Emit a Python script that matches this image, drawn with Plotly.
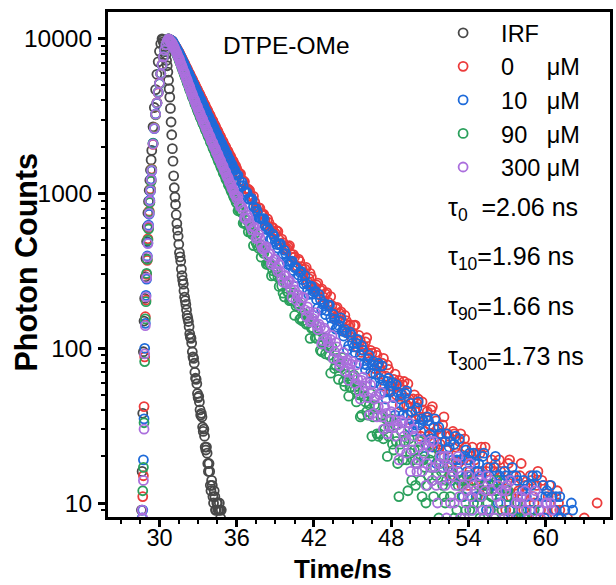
import plotly.graph_objects as go

# ---------------- data ----------------
# time channels (ns)
t_seg_a = [28.60, 28.65, 28.70, 28.75, 28.80, 28.85, 28.90, 28.95, 29.00, 29.05,
           29.10, 29.15, 29.20, 29.25, 29.30, 29.35, 29.40]
t_seg_b = [29.5, 29.6, 29.7, 29.8, 29.9, 30.0,
           30.1, 30.2, 30.3, 30.4, 30.5, 30.6, 30.7, 30.8, 30.9, 31.0,
           31.1, 31.2, 31.3, 31.4, 31.5, 31.6, 31.7, 31.8, 31.9, 32.0,
           32.1, 32.2, 32.3, 32.4, 32.5, 32.6, 32.7, 32.8, 32.9, 33.0,
           33.1, 33.2, 33.3, 33.4, 33.5, 33.6, 33.7, 33.8, 33.9, 34.0,
           34.1, 34.2, 34.3, 34.4, 34.5, 34.6, 34.7, 34.8, 34.9, 35.0,
           35.1, 35.2, 35.3, 35.4, 35.5, 35.6, 35.7, 35.8, 35.9, 36.0]
t_seg_b2 = [30.75, 30.85, 30.95,
            31.05, 31.15, 31.25, 31.35, 31.45, 31.55, 31.65, 31.75, 31.85, 31.95,
            32.05, 32.15, 32.25, 32.35, 32.45, 32.55, 32.65, 32.75, 32.85, 32.95,
            33.05, 33.15, 33.25, 33.35, 33.45, 33.55, 33.65, 33.75, 33.85, 33.95,
            34.05, 34.15, 34.25, 34.35, 34.45, 34.55, 34.65, 34.75, 34.85, 34.95,
            35.05, 35.15, 35.25, 35.35, 35.45, 35.55, 35.65, 35.75, 35.85, 35.95]
t_seg_c = [36.2, 36.4, 36.6, 36.8, 37.0, 37.2, 37.4, 37.6, 37.8, 38.0,
           38.2, 38.4, 38.6, 38.8, 39.0, 39.2, 39.4, 39.6, 39.8, 40.0,
           40.2, 40.4, 40.6, 40.8, 41.0, 41.2, 41.4, 41.6, 41.8, 42.0,
           42.2, 42.4, 42.6, 42.8, 43.0, 43.2, 43.4, 43.6, 43.8, 44.0,
           44.2, 44.4, 44.6, 44.8, 45.0, 45.2, 45.4, 45.6, 45.8, 46.0,
           46.2, 46.4, 46.6, 46.8, 47.0, 47.2, 47.4, 47.6, 47.8, 48.0,
           48.2, 48.4, 48.6, 48.8, 49.0, 49.2, 49.4, 49.6, 49.8, 50.0,
           50.2, 50.4, 50.6, 50.8, 51.0, 51.2, 51.4, 51.6, 51.8, 52.0,
           52.2, 52.4, 52.6, 52.8, 53.0, 53.2, 53.4, 53.6, 53.8, 54.0,
           54.2, 54.4, 54.6, 54.8, 55.0, 55.2, 55.4, 55.6, 55.8, 56.0,
           56.2, 56.4, 56.6, 56.8, 57.0, 57.2, 57.4, 57.6, 57.8, 58.0,
           58.2, 58.4, 58.6, 58.8, 59.0, 59.2, 59.4, 59.6, 59.8, 60.0,
           60.2, 60.4, 60.6, 60.8, 61.0, 61.2, 61.4, 61.6, 61.8, 62.0,
           62.2, 62.4, 62.6, 62.8, 63.0, 63.2, 63.4, 63.6, 63.8, 64.0]
t_seg_c2 = [36.1, 36.3, 36.5, 36.7, 36.9, 37.1, 37.3, 37.5, 37.7, 37.9,
            38.1, 38.3, 38.5, 38.7, 38.9, 39.1, 39.3, 39.5, 39.7, 39.9,
            40.1, 40.3, 40.5, 40.7, 40.9, 41.1, 41.3, 41.5, 41.7, 41.9,
            42.1, 42.3, 42.5, 42.7, 42.9, 43.1, 43.3, 43.5, 43.7, 43.9,
            44.1, 44.3, 44.5, 44.7, 44.9, 45.1, 45.3, 45.5, 45.7, 45.9,
            46.1, 46.3, 46.5, 46.7, 46.9, 47.1, 47.3, 47.5, 47.7, 47.9,
            48.1, 48.3, 48.5, 48.7, 48.9, 49.1, 49.3, 49.5, 49.7, 49.9,
            50.1, 50.3, 50.5, 50.7, 50.9, 51.1, 51.3, 51.5, 51.7, 51.9,
            52.1, 52.3, 52.5, 52.7, 52.9, 53.1, 53.3, 53.5, 53.7, 53.9,
            54.1, 54.3, 54.5, 54.7, 54.9, 55.1, 55.3, 55.5, 55.7, 55.9,
            56.1, 56.3, 56.5, 56.7, 56.9, 57.1, 57.3, 57.5, 57.7, 57.9,
            58.1, 58.3, 58.5, 58.7, 58.9, 59.1, 59.3, 59.5, 59.7, 59.9,
            60.1, 60.3, 60.5, 60.7, 60.9, 61.1, 61.3, 61.5, 61.7, 61.9,
            62.1, 62.3, 62.5, 62.7, 62.9, 63.1, 63.3, 63.5, 63.7, 63.9]
t_irf_mid = [30.25, 30.35, 30.45, 30.55, 30.65, 30.75, 30.85, 30.95,
             31.05, 31.15, 31.25, 31.35, 31.45, 31.55, 31.65, 31.75, 31.85, 31.95,
             32.05, 32.15, 32.25, 32.35, 32.45, 32.55, 32.65, 32.75, 32.85, 32.95,
             33.05, 33.15, 33.25, 33.35, 33.45, 33.55, 33.65, 33.75, 33.85, 33.95,
             34.05, 34.15, 34.25, 34.35, 34.45, 34.55, 34.65, 34.75]

decay_time = t_seg_a + t_seg_b + t_seg_c + t_seg_b2 + t_seg_c2
irf_time = t_seg_a + t_seg_b[0:54] + t_irf_mid

irf_counts = [9, 16, 38, 95, 150, 210, 290, 380, 490, 610, 750, 890, 1050, 1220, 1420, 1650, 1900,
              2700, 3600, 4700, 5900, 7100, 8300,
              9300, 10000, 9600, 8900, 7900, 6700, 5400, 4200, 2900, 1950,
              1300, 950, 730, 580, 470, 390, 325, 275, 235, 203,
              177, 156, 138, 118, 108, 88, 80, 64, 59, 48,
              45, 37, 36, 29, 27, 22, 21, 16, 16, 12,
              13, 10, 11, 9, 10, 9, 9, 9,
              # mid channels 30.25 .. 34.75
              9850, 9300, 8450, 7250, 6100, 4750, 3550, 2400,
              1620, 1090, 850, 640, 530, 415, 365, 295, 260, 214,
              192, 163, 149, 124, 116, 95, 86, 70, 63, 51,
              49, 40, 38, 31, 30, 23, 23, 18, 18, 13,
              14, 11, 12, 9, 10, 9, 10, 8]

counts_0uM = [5, 7, 11, 15, 42, 88, 160, 205, 300, 370, 510, 600, 770, 880, 1070, 1210, 1440,
              2080, 2670, 3230, 3870, 4480, 5170,
              5930, 6820, 7640, 8460, 9140, 9710, 10000, 9890, 9770, 9660,
              9354, 9057, 8770, 8492, 8222, 7907, 7603, 7311, 7031, 6761,
              6501, 6252, 6012, 5781, 5559, 5346, 5140, 4943, 4753, 4571,
              4410, 4215, 4080, 3895, 3770, 3600, 3490, 3330, 3225, 3080,
              2985, 2845, 2760, 2630, 2555, 2430, 2362, 2248, 2185, 2078,
              2030, 1925, 1890, 1790, 1755, 1660, 1630, 1540, 1515, 1438,
              # 36.2 .. 64.0
              1358, 1212, 1190, 1066, 1047, 914, 882, 778, 804, 737,
              674, 685, 588, 603, 554, 569, 471, 482, 439, 453,
              407, 403, 335, 377, 337, 305, 333, 283, 289, 242,
              257, 224, 242, 213, 229, 186, 189, 158, 184, 168,
              148, 163, 126, 142, 126, 141, 101, 112, 98, 110,
              93, 97, 69, 94, 79, 68, 86, 66, 73, 53,
              63, 50, 62, 51, 61, 43, 47, 34, 50, 44,
              36, 45, 29, 39, 32, 42, 23, 30, 24, 32,
              25, 28, 15, 29, 23, 18, 28, 19, 23, 13,
              20, 14, 21, 16, 23, 13, 16, 9, 19, 16,
              12, 19, 9, 16, 13, 19, 8, 13, 10, 15,
              11, 13, 5, 15, 11, 8, 16, 9, 13, 6,
              11, 7, 9, 9, 10, 7, 6, 4, 7, 6,
              7, 7, 5, 5, 8, 7, 4, 6, 6, 10,
              # 30.75 .. 35.95
              9960, 9815, 9730,
              9480, 9230, 8890, 8650, 8330, 8100, 7730, 7480, 7140, 6920,
              6600, 6400, 6100, 5920, 5640, 5480, 5220, 5060, 4820, 4690,
              4460, 4330, 4120, 4010, 3810, 3710, 3520, 3430, 3260, 3170,
              3010, 2940, 2780, 2715, 2570, 2510, 2375, 2320, 2195, 2150,
              2035, 1990, 1880, 1845, 1745, 1715, 1620, 1595, 1505, 1480,
              # 36.1 .. 63.9
              1372, 1337, 1212, 1067, 1067, 962, 959, 822, 812, 737,
              735, 622, 650, 607, 545, 575, 504, 508, 438, 443,
              460, 387, 389, 340, 364, 324, 325, 269, 305, 254,
              247, 264, 238, 200, 225, 199, 216, 170, 181, 161,
              172, 129, 151, 139, 118, 140, 113, 121, 94, 102,
              117, 87, 93, 74, 90, 75, 80, 57, 78, 57,
              57, 68, 59, 43, 58, 48, 59, 39, 47, 39,
              47, 27, 40, 36, 27, 40, 28, 34, 22, 28,
              36, 22, 27, 18, 28, 21, 25, 13, 26, 15,
              16, 23, 19, 11, 21, 16, 23, 12, 17, 13,
              18, 7, 16, 14, 9, 18, 11, 15, 8, 12,
              18, 9, 12, 7, 14, 10, 13, 5, 14, 7,
              8, 13, 11, 5, 12, 9, 7, 5, 8, 6,
              4, 7, 5, 6, 4, 7, 5, 3, 6, 5]

counts_10uM = [4, 8, 9, 19, 35, 100, 145, 220, 280, 395, 480, 625, 735, 905, 1035, 1240, 1400,
               2120, 2630, 3270, 3830, 4520, 5130,
               5970, 6780, 7660, 8440, 9160, 9690, 10000, 9886, 9772, 9661,
               9333, 9016, 8710, 8414, 8128, 7798, 7482, 7178, 6887, 6607,
               6339, 6081, 5834, 5598, 5370, 5152, 4943, 4742, 4550, 4365,
               4170, 4035, 3840, 3712, 3535, 3418, 3250, 3146, 2995, 2896,
               2760, 2680, 2552, 2478, 2360, 2292, 2182, 2120, 2018, 1960,
               1866, 1812, 1725, 1676, 1595, 1550, 1475, 1434, 1364, 1325,
               # 36.2 .. 64.0
               1210, 1187, 1025, 1013, 920, 916, 767, 761, 687, 687,
               617, 601, 507, 547, 490, 444, 472, 407, 409, 347,
               361, 318, 335, 298, 314, 261, 263, 223, 252, 231,
               206, 222, 177, 194, 175, 191, 142, 154, 137, 150,
               129, 132, 98, 127, 108, 94, 114, 90, 97, 73,
               85, 69, 82, 68, 80, 58, 62, 47, 64, 57,
               48, 58, 39, 50, 42, 53, 31, 39, 32, 41,
               32, 35, 20, 36, 28, 23, 35, 23, 28, 17,
               25, 17, 25, 19, 27, 16, 19, 11, 22, 19,
               15, 21, 11, 18, 15, 21, 9, 15, 11, 17,
               12, 15, 6, 16, 12, 9, 17, 10, 14, 6,
               12, 7, 13, 9, 15, 7, 10, 5, 13, 11,
               7, 13, 5, 11, 8, 8, 5, 7, 6, 10,
               6, 5, 7, 4, 6, 5, 7, 4, 6, 5,
               # 30.75 .. 35.95
               9920, 9850, 9690,
               9540, 9140, 8900, 8520, 8310, 7930, 7690, 7290, 7070, 6700,
               6510, 6170, 5990, 5680, 5520, 5220, 5080, 4800, 4680, 4420,
               4310, 4070, 3970, 3740, 3650, 3440, 3370, 3160, 3100, 2910,
               2860, 2690, 2640, 2480, 2440, 2300, 2260, 2120, 2090, 1960,
               1935, 1815, 1790, 1680, 1655, 1550, 1530, 1435, 1415, 1325,
               # 36.1 .. 63.9
               1311, 1123, 1123, 1033, 922, 935, 821, 803, 695, 683,
               689, 587, 579, 508, 527, 469, 466, 394, 430, 364,
               351, 366, 332, 285, 310, 278, 295, 238, 250, 224,
               234, 182, 207, 192, 165, 190, 157, 166, 133, 141,
               157, 120, 126, 104, 122, 102, 108, 80, 104, 79,
               78, 90, 78, 60, 77, 64, 77, 52, 61, 52,
               60, 37, 52, 47, 37, 51, 37, 44, 29, 35,
               45, 29, 34, 24, 34, 26, 31, 18, 31, 20,
               20, 28, 23, 14, 24, 19, 26, 14, 20, 16,
               21, 9, 18, 16, 11, 20, 13, 17, 9, 13,
               20, 10, 14, 8, 15, 11, 14, 6, 15, 8,
               9, 14, 11, 5, 13, 9, 15, 6, 11, 8,
               12, 4, 11, 9, 5, 11, 7, 9, 5, 6,
               9, 4, 6, 7, 5, 6, 3, 7, 5, 4]

counts_90uM = [3, 6, 12, 17, 33, 82, 155, 200, 305, 375, 500, 590, 760, 875, 1060, 1200, 1430,
               2110, 2660, 3240, 3860, 4510, 5140,
               5960, 6790, 7650, 8450, 9150, 9700, 10000, 9772, 9550, 9333,
               8913, 8511, 8128, 7762, 7413, 7031, 6668, 6324, 5998, 5689,
               5395, 5117, 4853, 4603, 4365, 4150, 3945, 3750, 3565, 3388,
               3250, 3075, 2965, 2805, 2705, 2555, 2468, 2330, 2250, 2126,
               2052, 1938, 1872, 1766, 1707, 1610, 1558, 1468, 1420, 1340,
               1298, 1228, 1190, 1124, 1090, 1030, 999, 944, 916, 866,
               # 36.2 .. 64.0
               784, 751, 651, 671, 608, 545, 551, 461, 471, 425,
               436, 348, 356, 317, 327, 288, 284, 227, 262, 229,
               204, 228, 188, 195, 157, 169, 143, 158, 135, 149,
               116, 119, 95, 117, 105, 90, 102, 74, 86, 75,
               87, 57, 66, 56, 66, 54, 57, 36, 55, 45,
               37, 51, 36, 42, 27, 36, 26, 35, 27, 35,
               22, 25, 11, 29, 25, 19, 26, 14, 22, 18,
               25, 11, 17, 13, 19, 14, 17, 7, 18, 13,
               10, 18, 11, 15, 7, 13, 8, 14, 9, 15,
               7, 10, 5, 13, 11, 8, 13, 5, 11, 8,
               14, 4, 9, 6, 11, 7, 9, 2, 10, 7,
               5, 8, 6, 7, 4, 6, 5, 7, 3, 6,
               4, 5, 3, 6, 4, 5, 3, 4, 5, 2,
               4, 3, 5, 3, 4, 2, 3, 4, 3, 2,
               # 30.75 .. 35.95
               9850, 9690, 9410,
               9150, 8680, 8350, 7910, 7620, 7190, 6890, 6460, 6190, 5810,
               5570, 5230, 5010, 4700, 4510, 4230, 4070, 3820, 3680, 3450,
               3330, 3140, 3040, 2860, 2770, 2610, 2530, 2380, 2310, 2170,
               2110, 1980, 1925, 1805, 1755, 1645, 1605, 1500, 1465, 1370,
               1335, 1250, 1225, 1145, 1120, 1050, 1025, 960, 940, 880,
               # 36.1 .. 63.9
               774, 769, 644, 633, 566, 561, 461, 482, 443, 388,
               411, 350, 353, 294, 297, 311, 251, 253, 215, 234,
               203, 206, 163, 193, 154, 150, 164, 145, 116, 136,
               117, 131, 97, 106, 92, 101, 69, 86, 78, 63,
               80, 61, 68, 49, 56, 67, 45, 50, 37, 49,
               39, 43, 27, 43, 28, 28, 37, 30, 20, 31,
               24, 32, 18, 24, 19, 25, 12, 21, 19, 13,
               22, 14, 19, 10, 15, 21, 11, 15, 8, 16,
               11, 14, 6, 16, 8, 9, 14, 11, 5, 12,
               9, 14, 6, 10, 8, 12, 3, 10, 9, 5,
               12, 6, 10, 4, 7, 12, 5, 8, 4, 9,
               6, 8, 3, 7, 5, 9, 4, 6, 5, 7,
               3, 5, 6, 4, 5, 3, 4, 6, 3, 5,
               4, 2, 5, 3, 4, 3, 2, 4, 3, 2]

counts_300uM = [5, 9, 8, 14, 30, 92, 140, 215, 285, 390, 475, 615, 745, 895, 1045, 1230, 1410,
                2090, 2640, 3260, 3850, 4490, 5160,
                5950, 6800, 7650, 8450, 9150, 9700, 10000, 9772, 9550, 9333,
                8933, 8551, 8185, 7834, 7499, 7129, 6776, 6442, 6124, 5821,
                5521, 5236, 4966, 4710, 4467, 4256, 4055, 3864, 3681, 3508,
                3370, 3190, 3080, 2915, 2818, 2664, 2575, 2436, 2355, 2226,
                2155, 2040, 1975, 1868, 1810, 1712, 1658, 1568, 1520, 1436,
                1392, 1316, 1276, 1205, 1168, 1105, 1071, 1012, 982, 927,
                # 36.2 .. 64.0
                861, 822, 696, 727, 646, 583, 606, 523, 517, 440,
                449, 395, 409, 362, 375, 314, 312, 267, 296, 271,
                241, 255, 205, 221, 198, 214, 160, 172, 151, 163,
                141, 143, 107, 135, 116, 101, 121, 95, 102, 77,
                88, 71, 84, 70, 82, 59, 63, 47, 65, 57,
                48, 58, 38, 49, 42, 52, 30, 38, 31, 39,
                31, 34, 19, 34, 27, 21, 33, 22, 27, 16,
                23, 16, 24, 18, 25, 14, 17, 10, 20, 17,
                13, 20, 10, 16, 13, 20, 8, 13, 10, 15,
                11, 13, 5, 15, 11, 8, 15, 9, 12, 5,
                11, 6, 12, 8, 13, 6, 9, 4, 11, 10,
                7, 12, 4, 10, 7, 12, 4, 8, 5, 10,
                6, 10, 2, 7, 6, 5, 7, 4, 6, 5,
                3, 6, 4, 5, 3, 6, 4, 5, 3, 4,
                # 30.75 .. 35.95
                9910, 9640, 9470,
                9100, 8780, 8330, 8060, 7630, 7380, 6920, 6650, 6250, 6020,
                5640, 5420, 5080, 4880, 4560, 4390, 4130, 3990, 3750, 3630,
                3410, 3300, 3110, 3020, 2850, 2760, 2600, 2520, 2380, 2310,
                2170, 2120, 1990, 1940, 1820, 1780, 1670, 1630, 1530, 1495,
                1400, 1370, 1285, 1255, 1175, 1150, 1075, 1055, 985, 965,
                # 36.1 .. 63.9
                956, 816, 787, 689, 696, 618, 603, 512, 545, 463,
                441, 453, 409, 350, 374, 333, 349, 285, 294, 263,
                274, 214, 238, 220, 189, 213, 177, 185, 148, 156,
                170, 132, 137, 112, 130, 110, 114, 86, 109, 83,
                81, 94, 81, 62, 79, 66, 78, 53, 62, 52,
                60, 37, 52, 47, 36, 50, 36, 42, 28, 34,
                43, 27, 32, 22, 33, 25, 29, 16, 30, 18,
                19, 26, 21, 13, 23, 17, 25, 13, 18, 14,
                20, 8, 17, 15, 10, 18, 11, 15, 8, 12,
                18, 9, 12, 7, 14, 9, 12, 5, 14, 7,
                8, 13, 10, 5, 12, 8, 14, 6, 10, 7,
                11, 3, 9, 8, 5, 11, 6, 9, 4, 7,
                10, 5, 9, 6, 4, 6, 4, 7, 3, 5,
                6, 4, 5, 3, 6, 4, 5, 3, 4, 5]

series_names = ["IRF", "0\u00a0\u00a0\u00a0\u00a0\u00a0μM", "10\u00a0\u00a0\u00a0μM",
                "90\u00a0\u00a0\u00a0μM", "300\u00a0μM"]
series_colors = ["#484848", "#EC3B3B", "#1E6BDA", "#2BA05C", "#AB6FDD"]
lifetime_labels = ["τ<sub>0</sub>\u00a0\u00a0=2.06 ns", "τ<sub>10</sub>=1.96 ns",
                   "τ<sub>90</sub>=1.66 ns", "τ<sub>300</sub>=1.73 ns"]
sample_label = "DTPE-OMe"
x_title = "Time/ns"
y_title = "Photon Counts"
x_ticks = [30, 36, 42, 48, 54, 60]

# ---------------- figure ----------------
FONT = "Liberation Sans, Arial, sans-serif"
W, H = 616, 585
L, R, T, B = 108, 3, 12, 68
pw, ph = W - L - R, H - T - B


def px_x(px):
    return (px - L) / pw


def px_y(py):
    return (H - B - py) / ph


xs = [irf_time, decay_time, decay_time, decay_time, decay_time]
ys = [irf_counts, counts_0uM, counts_10uM, counts_90uM, counts_300uM]
for name, x, y in zip(series_names, xs, ys):
    if len(x) != len(y):
        raise ValueError(f"length mismatch for {name}: {len(x)} vs {len(y)}")

fig = go.Figure()
for i, (x, y, name, col) in enumerate(zip(xs, ys, series_names, series_colors)):
    fig.add_trace(go.Scatter(
        x=x, y=y, mode="markers", name=name, legendgroup=f"g{i}",
        marker=dict(symbol="circle-open", size=9, color=col, line=dict(width=1.8, color=col)),
    ))

for lab, py in zip(lifetime_labels, [209, 258, 308, 358]):
    fig.add_annotation(text=lab, xref="paper", yref="paper", x=px_x(448), y=px_y(py),
                       xanchor="left", yanchor="middle", showarrow=False,
                       font=dict(family=FONT, size=25, color="black"))

fig.add_annotation(text=sample_label, xref="paper", yref="paper", x=px_x(222), y=px_y(46),
                   xanchor="left", yanchor="middle", showarrow=False,
                   font=dict(family=FONT, size=24.5, color="black"))

# axis titles
fig.add_annotation(text=f"<b>{x_title}</b>", xref="paper", yref="paper",
                   x=px_x(344), y=px_y(584.5), xanchor="center", yanchor="bottom",
                   borderpad=0, showarrow=False,
                   font=dict(family=FONT, size=26, color="black"))
fig.add_annotation(text=f"<b>{y_title}</b>", xref="paper", yref="paper",
                   x=px_x(26), y=px_y(262), xanchor="center", yanchor="middle",
                   textangle=-90, showarrow=False,
                   font=dict(family=FONT, size=30.5, color="black"))

fig.update_layout(
    width=W, height=H,
    margin=dict(l=L, r=R, t=T, b=B, pad=0),
    paper_bgcolor="white", plot_bgcolor="white",
    font=dict(family=FONT, size=23, color="black"),
    showlegend=True,
    legend=dict(x=px_x(427), y=px_y(11), xanchor="left", yanchor="top",
                font=dict(family=FONT, size=23.5, color="black"),
                bgcolor="rgba(0,0,0,0)", tracegroupgap=0, itemwidth=66),
    xaxis=dict(
        range=[26, 65], showgrid=False, zeroline=False,
        showline=True, linewidth=3, linecolor="black", mirror=True,
        ticks="outside", ticklen=7, tickwidth=2.5, tickcolor="black",
        tickmode="array", tickvals=x_ticks, ticktext=[str(v) for v in x_ticks],
        tickfont=dict(family=FONT, size=23.5), ticklabelstandoff=-9,
        minor=dict(ticks="outside", ticklen=4, tickwidth=2, tickcolor="black",
                   tickmode="linear", tick0=30, dtick=1.5),
    ),
    yaxis=dict(
        type="log", range=[0.9095, 4.1735], showgrid=False, zeroline=False,
        showline=True, linewidth=3, linecolor="black", mirror=True,
        ticks="outside", ticklen=7, tickwidth=2.5, tickcolor="black",
        dtick=1, tickformat="d",
        tickfont=dict(family=FONT, size=24.5), ticklabelstandoff=1,
        minor=dict(ticks="outside", ticklen=4, tickwidth=2, tickcolor="black", dtick="D1"),
    ),
)

fig.write_html("out.html")
